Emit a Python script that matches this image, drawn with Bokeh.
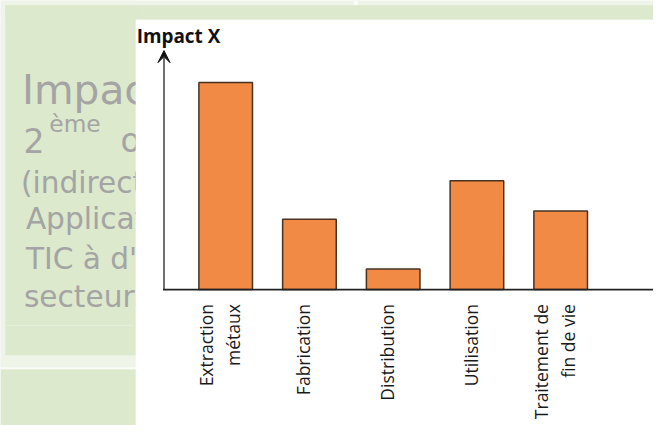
from math import pi
from bokeh.plotting import figure
from bokeh.models import Range1d, ColumnDataSource, Arrow, VeeHead
from bokeh.core.properties import value
from bokeh.embed import file_html
from bokeh.resources import INLINE

# ---- data ----
categories = ["Extraction\nmétaux", "Fabrication", "Distribution", "Utilisation", "Traitement de\nfin de vie"]
impact = [100, 34, 10, 52.5, 38]
y_title = "Impact X"
slide_lines = ["Impacts de", "(indirects)", "Applications des", "TIC à d'autres", "secteurs"]
slide_2 = "2"
slide_sup = "ème"
slide_2_rest = "ordre"

# ---- layout: reference window is 669x441, drawn into the figure ----
W, H = 653, 425
RW, RH = 669.0, 441.0
SX, SY = W / RW, H / RH
S = (SX + SY) / 2
def fx(x): return x * SX
def fy(y): return H - y * SY
def fs(px): return "%.1fpx" % (px * S)

AXIS_X, AXIS_Y = 167.5, 300.0
TOP_Y = 85.0            # pixel position of the largest bar's top
X0, STEP = 230.7, 85.8  # centre of first category and spacing

ppv = (AXIS_Y - TOP_Y) * SY / max(impact)
val_start = -fy(AXIS_Y) / ppv
val_end = (H - fy(AXIS_Y)) / ppv
idx_start = -X0 / STEP
idx_end = (RW - X0) / STEP

p = figure(width=W, height=H, output_backend="svg", toolbar_location=None,
           x_range=Range1d(0, W), y_range=Range1d(0, H),
           x_axis_type=None, y_axis_type=None, min_border=0)
p.extra_x_ranges = {"idx": Range1d(idx_start, idx_end)}
p.extra_y_ranges = {"val": Range1d(val_start, val_end)}
p.grid.visible = False
p.outline_line_color = None

LIGHT, PANEL = "#eef4e8", "#dce9cc"
p.background_fill_color = LIGHT
p.border_fill_color = LIGHT

def box(l, r, t, b, c):
    p.quad(left=fx(l), right=fx(r), top=fy(t), bottom=fy(b), fill_color=c, line_color=None)

# slide backgrounds
box(362, 366, 0, 5, "#fbfdf9")
box(5, 669, 5, 20, PANEL)
box(5, 139, 5, 368, PANEL)
box(5, 136, 336.5, 337.8, "#e4eed8")
box(0, 139, 380.5, 382.5, "#fafcf8")
box(0, 139, 383, 441, PANEL)

# slide texts (partly hidden by the chart)
GRAY = "#a4a4a4"
FONT = value("DejaVu Sans")
def stext(x, y, t, size):
    p.text(x=[fx(x)], y=[fy(y)], text=[t], text_font=FONT, text_font_size=fs(size),
           text_color=GRAY, text_baseline="alphabetic")

stext(22, 93, slide_lines[0], 42)
stext(23.5, 145, slide_2, 34)
stext(50, 128, slide_sup, 24)
stext(123, 145, slide_2_rest, 34)
stext(21, 189, slide_lines[1], 30.5)
stext(26, 227, slide_lines[2], 30.5)
stext(26, 268, slide_lines[3], 30.5)
stext(24, 308, slide_lines[4], 30.5)

# white chart panel
box(138.5, 669, 20, 441, "white")

# title
p.text(x=[fx(139.5)], y=[fy(37)], text=[y_title], text_font=value("Open Sans"), text_font_style="bold",
       text_font_size=fs(19.5), text_color="#111111", text_baseline="alphabetic")

# bars
src = ColumnDataSource(dict(x=list(range(len(categories))), top=impact, label=categories))
p.vbar(x="x", top="top", bottom=0, width=0.64, source=src, x_range_name="idx", y_range_name="val",
       fill_color="#f08a44", line_color="#4a3222", line_width=1.5)

# axis lines
p.segment(x0=[fx(AXIS_X - 1)], y0=[fy(AXIS_Y)], x1=[fx(RW)], y1=[fy(AXIS_Y)],
          line_color="#222222", line_width=1.6)
p.add_layout(Arrow(end=VeeHead(size=12, fill_color="#111111", line_color="#111111"),
                   x_start=fx(AXIS_X), y_start=fy(AXIS_Y), x_end=fx(AXIS_X), y_end=fy(52),
                   line_color="#222222", line_width=1.3))

# category labels
lab_y = -15 * SY / ppv
p.text(x="x", y=lab_y, text="label", source=src, x_range_name="idx", y_range_name="val",
       angle=pi / 2, text_align="right", text_baseline="middle", text_font=value("Open Sans"),
       text_font_size=fs(18), text_line_height=1.1, text_color="#1a1a1a", x_offset=-6)

open("out.html", "w").write(file_html(p, INLINE))
